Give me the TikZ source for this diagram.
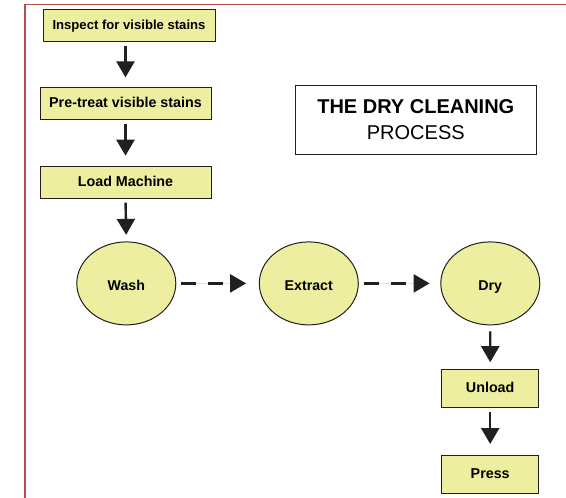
\documentclass[tikz,border=0pt]{standalone}
\usepackage{fontspec}
\setmainfont{Liberation Sans}
\usetikzlibrary{arrows.meta,shapes.geometric}

\definecolor{stepfill}{RGB}{238,238,160}
\definecolor{frameline}{RGB}{176,82,72}
\definecolor{inkline}{RGB}{35,31,32}

\tikzset{
  stepbox/.style={draw=inkline, line width=1pt, fill=stepfill, inner sep=0pt,
    text height=10pt, text depth=1.5pt,
    font=\fontsize{14.3}{16}\selectfont\bfseries},
  stepoval/.style={ellipse, draw=inkline, line width=1pt, fill=stepfill, inner sep=0pt,
    text height=15pt, text depth=0pt,
    minimum width=99pt, minimum height=83pt, font=\fontsize{14.2}{16}\selectfont\bfseries},
  flow/.style={draw=inkline, fill=inkline, line width=2.4pt,
    -{Triangle[width=18pt,length=16pt]}},
  flowdash/.style={flow, dash pattern=on 15pt off 12pt}
}

\begin{document}
\begin{tikzpicture}[x=1pt,y=-1pt]
\useasboundingbox (0,0) rectangle (566,498);

% frame
\draw[frameline, line width=1.2pt] (25,498) -- (25,4.7) -- (566,4.7);

% steps
\node[stepbox, minimum width=172pt, minimum height=32pt,
  font=\fontsize{13.1}{15}\selectfont\bfseries] (inspect) at (129,25.3) {Inspect for visible stains};
\node[stepbox, minimum width=171pt, minimum height=32pt] (pretreat) at (125.5,103.2) {Pre-treat visible stains};
\node[stepbox, minimum width=171pt, minimum height=32pt] (load) at (125.5,182.7) {Load Machine};

\node[stepoval] (wash) at (126.3,283.4) {Wash};
\node[stepoval] (extract) at (308.8,283.4) {Extract};
\node[stepoval] (dry) at (490.3,283.4) {Dry};

\node[stepbox, minimum width=97pt, minimum height=38pt] (unload) at (490.2,388.3) {Unload};
\node[stepbox, minimum width=97pt, minimum height=38pt] (press) at (490.2,474.2) {Press};

% title
\node[draw=inkline, line width=1pt, minimum width=241pt, minimum height=69pt, align=center,
  font=\fontsize{20}{25.7}\selectfont] (title) at (415.8,119.8)
  {\textbf{THE DRY CLEANING}\\PROCESS};

% arrows
\draw[flow, shorten <=4.4pt, shorten >=9.3pt] (pretreat.north |- inspect.south) -- (pretreat.north);
\draw[flow, shorten <=4pt, shorten >=10.5pt] (pretreat.south) -- (load.north);
\draw[flow, shorten <=3.5pt, shorten >=6.5pt] (load.south) -- (wash.north);
\draw[flowdash, shorten <=4.5pt, shorten >=12.7pt] (wash.east) -- (extract.west);
\draw[flowdash, shorten <=5pt, shorten >=10.7pt] (extract.east) -- (dry.west);
\draw[flow, shorten <=6pt, shorten >=6.6pt] (dry.south) -- (unload.north);
\draw[flow, shorten <=4.4pt, shorten >=10.7pt] (unload.south) -- (press.north);
\end{tikzpicture}
\end{document}
